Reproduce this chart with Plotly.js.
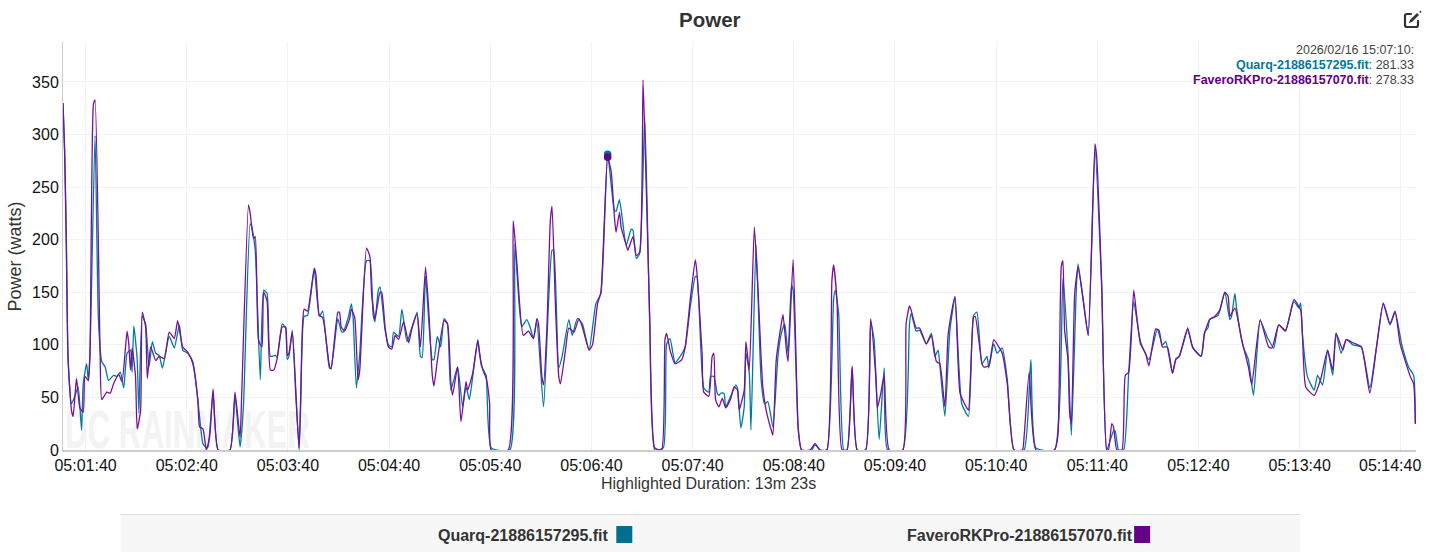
<!DOCTYPE html>
<html>
<head>
<meta charset="utf-8">
<script src="https://cdn.plot.ly/plotly-3.0.1.min.js"></script>
<style>
html,body{margin:0;padding:0;background:#fff;overflow:hidden}
#mark{position:absolute;left:65px;top:411px;font:700 53px "Liberation Sans",Arial,sans-serif;color:#f3f3f3;transform:scaleX(0.59);transform-origin:0 0;white-space:nowrap;line-height:38px;height:38px}
#chart{position:absolute;left:0;top:0;width:1438px;height:552px}
#icon{position:absolute;left:1403px;top:10px;width:19px;height:19px}
</style>
</head>
<body>
<div id="mark">DC RAINMAKER</div>
<div id="chart"></div>
<svg id="icon" viewBox="0 0 19 19"><path d="M8 4H4a2 2 0 0 0-2 2v9a2 2 0 0 0 2 2h9a2 2 0 0 0 2-2v-4" fill="none" stroke="#333" stroke-width="2.2" stroke-linecap="round"/><path d="M14 3l2 2-7 7-3 1 1-3z" fill="#333"/><circle cx="17.4" cy="1.8" r="1" fill="#333"/></svg>
<script>
const quarqName = 'Quarq-21886157295.fit';
const faveroName = 'FaveroRKPro-21886157070.fit';
const startClock = '2026-02-16T05:01:26.600Z';

const quarqSeconds = [
0,1,2,3,5,7,9,11,12,14,
15,16,19,21,23,25,27,30,32,34,
36,38,40,41,42,44,45,47,49,51,
53,55,57,59,63,66,69,71,74,77,
80,83,85,86,89,92,99,102,105,107,
111,112,114,117,119,121,123,126,127,130,
132,133,134,136,140,141,143,145,149,152,
154,158,159,163,165,166,169,171,172,174,
176,180,182,184,185,187,188,191,193,195,
196,199,201,204,207,210,212,213,215,219,
220,222,224,226,228,230,234,237,239,241,
243,246,248,250,251,254,265,268,272,275,
277,279,281,285,290,291,294,296,300,302,
305,308,312,316,319,323,327,328,330,334,
337,338,340,342,345,348,351,356,358,360,
363,366,369,372,375,376,380,383,384,386,
388,389,390,392,393,396,399,400,402,404,
405,407,408,411,414,416,418,421,424,426,
428,430,432,433,436,438,444,446,449,453,
457,458,460,463,465,468,471,476,479,481,
484,487,489,498,502,503,506,508,512,515,
517,519,520,523,526,529,533,537,540,542,
545,548,549,552,554,557,560,564,570,574,
577,588,593,596,598,601,602,605,608,612,
616,619,623,624,626,629,632,635,639,644,
649,652,654,658,660,662,667,670,675,677,
679,680,685,689,692,693,695,696,700,703,
706,710,714,718,721,725,730,733,734,735,
738,742,744,747,750,753,755,758,761,765,
770,775,779,783,787,790,794,798,801,802];
const quarqPower = [
330,285,200,86,44,51,60,19,63,82,
66,92,299,124,84,79,66,71,70,74,
59,92,95,74,118,86,35,127,120,79,
103,92,90,78,108,97,119,95,92,84,
47,6,2,3,54,0,0,51,3,41,
215,212,190,67,152,149,89,90,88,120,
116,86,89,114,0,44,127,128,171,127,
132,78,78,125,113,112,125,139,127,59,
92,180,180,128,122,152,155,114,100,98,
112,108,134,103,117,131,89,88,165,86,
86,108,98,125,120,57,79,41,60,48,
70,105,81,74,71,2,0,196,117,124,
117,106,122,41,190,190,78,89,124,109,
125,120,95,139,149,281,228,227,238,195,
210,209,182,187,317,117,0,2,101,106,
83,89,98,136,165,165,59,55,70,70,
54,52,54,54,41,51,62,59,21,41,
92,73,19,195,67,44,46,22,89,111,
120,92,157,152,19,0,0,5,0,0,
143,152,130,0,0,78,0,0,122,105,
10,78,0,0,120,130,113,114,101,111,
89,95,81,32,114,145,44,32,128,131,
82,89,78,101,92,97,67,0,0,86,
2,0,163,92,14,155,177,143,109,285,
155,0,18,18,0,0,73,141,103,86,
115,100,103,73,87,89,114,98,89,112,
116,124,128,150,124,127,149,135,98,86,
52,123,108,97,119,114,141,135,140,111,
70,57,71,62,95,71,111,92,105,100,
98,59,98,139,119,131,100,79,71,25];

const faveroSeconds = [
0,1,2,3,5,6,8,10,12,13,
15,16,18,19,22,23,26,28,30,33,
35,38,39,40,41,43,44,46,47,49,
50,52,55,57,60,63,66,68,71,74,
77,80,81,83,85,87,89,92,99,102,
105,106,110,111,113,114,116,118,119,121,
123,125,127,130,132,133,134,136,138,140,
142,143,145,149,150,152,154,158,159,163,
164,165,167,170,171,173,175,176,180,182,
183,185,188,189,191,193,195,197,199,202,
205,207,210,212,215,217,219,220,222,226,
228,230,231,234,236,239,240,243,246,247,
249,251,253,254,264,267,269,273,276,279,
281,282,284,285,287,289,290,292,294,295,
298,300,303,306,308,312,314,317,319,323,
325,327,328,330,331,334,335,338,340,342,
344,346,348,351,355,357,358,360,363,367,
369,372,375,376,379,380,383,385,386,387,
389,391,393,396,398,400,401,404,405,407,
410,412,415,417,420,421,423,426,427,429,
430,433,436,438,443,446,449,453,456,457,
459,462,465,468,471,476,479,482,483,485,
487,490,498,500,502,503,506,508,512,515,
518,520,523,525,529,532,536,537,540,541,
545,546,549,552,555,557,560,564,569,570,
573,577,588,590,592,593,594,596,597,598,
600,602,605,608,612,613,616,619,620,622,
623,625,628,630,632,635,637,639,642,644,
648,650,652,655,658,660,662,667,670,675,
677,680,683,686,689,691,692,695,699,703,
705,710,715,717,721,725,730,734,737,742,
746,750,753,755,759,761,765,770,775,779,
783,787,790,793,799,801,802];
const faveroPower = [
330,280,190,88,38,32,68,40,36,70,
66,92,328,333,92,48,55,54,63,72,
65,113,101,76,97,70,20,37,131,117,
68,98,85,89,87,112,106,123,98,93,
82,47,22,20,0,13,58,0,0,55,
12,54,233,225,201,203,104,98,150,142,
76,76,87,117,117,90,92,112,54,2,
117,134,132,173,167,128,126,80,77,131,
131,117,113,125,134,126,67,76,192,184,
149,125,150,150,117,98,96,109,105,122,
102,116,129,98,174,130,71,61,85,123,
120,65,52,79,27,65,57,73,104,92,
76,68,44,0,0,218,181,109,113,106,
125,120,70,62,117,218,232,139,70,63,
95,116,112,125,117,95,100,139,150,278,
266,222,207,226,212,195,190,203,185,188,
352,244,124,2,0,105,111,95,82,86,
98,143,181,168,92,55,51,89,92,48,
41,49,40,49,60,57,38,57,103,76,
212,158,60,38,19,14,86,120,129,95,
84,181,22,0,0,6,0,0,161,176,
143,0,0,80,0,0,125,70,40,54,
71,0,0,120,137,133,116,116,101,109,
84,82,41,111,146,54,40,38,126,127,
82,79,80,105,98,92,63,0,0,13,
74,0,0,13,174,180,114,86,35,25,
149,174,143,109,291,279,158,0,0,25,
22,0,0,71,74,152,124,101,92,80,
115,114,98,98,73,86,89,116,97,89,
111,124,127,133,150,146,127,135,105,79,
62,124,98,97,119,113,143,133,60,52,
68,95,76,111,95,105,102,98,54,98,
140,120,132,101,70,63,25];

const highlightSecond = [323];
const highlightQuarq = [281.33];
const highlightFavero = [278.33];

const yTicks = [0,50,100,150,200,250,300,350];
const xTickClock = ['05:01:40','05:02:40','05:03:40','05:04:40','05:05:40','05:06:40','05:07:40','05:08:40','05:09:40','05:10:40','05:11:40','05:12:40','05:13:40','05:14:40'];
const tooltipTime = '2026/02/16 15:07:10:';
const durationText = 'Highlighted Duration: 13m 23s';

const teal = '#007a99', purple = '#74109c';
const tealSwatch = '#006f8f', purpleSwatch = '#650088';
const FONT = '"Liberation Sans", Arial, sans-serif';
const W = 1438, H = 552;
const L = 62.5, R = 1416, T = 42, B = 450;

const base = Date.parse(startClock);
const toDate = s => new Date(base + s*1000).toISOString().replace('T',' ').replace('Z','');
const xp = x => (x - L) / (R - L);
const yp = y => (B - y) / (B - T);

const xTickVals = xTickClock.map(t => '2026-02-16 ' + t);
const lastTick = xTickClock.length - 1;
const xTickText = xTickClock.map((t,i) => i === lastTick ? '' : t);

const lineStyle = c => ({color:c,width:1.3,shape:'spline',smoothing:0.5});
const traces = [
  {type:'scatter',mode:'lines',name:quarqName,x:quarqSeconds.map(toDate),y:quarqPower,line:lineStyle(teal),hoverinfo:'skip'},
  {type:'scatter',mode:'lines',name:faveroName,x:faveroSeconds.map(toDate),y:faveroPower,line:lineStyle(purple),hoverinfo:'skip'},
  {type:'scatter',mode:'markers',name:quarqName,x:highlightSecond.map(toDate),y:highlightQuarq,marker:{color:tealSwatch,size:7.5},hoverinfo:'skip'},
  {type:'scatter',mode:'markers',name:faveroName,x:highlightSecond.map(toDate),y:highlightFavero,marker:{color:purpleSwatch,size:7.5},hoverinfo:'skip'}
];

const free = {xref:'paper',yref:'paper',showarrow:false};
const tip = Object.assign({},free,{xanchor:'right',yanchor:'middle',font:{family:FONT,size:12.5,color:'#444'},x:xp(1416)});
const annotations = [
  Object.assign({},free,{text:'<b>Power</b>',x:xp(710),y:yp(20),xanchor:'center',yanchor:'middle',font:{family:FONT,size:20.5,color:'#333'}}),
  Object.assign({},tip,{text:tooltipTime,y:yp(50)}),
  Object.assign({},tip,{text:`<b><span style="color:${teal}">${quarqName}</span></b>: ${highlightQuarq[0]}`,y:yp(65)}),
  Object.assign({},tip,{text:`<b><span style="color:${purpleSwatch}">${faveroName}</span></b>: ${highlightFavero[0]}`,y:yp(80)}),
  Object.assign({},free,{text:'Power (watts)',x:xp(14),y:yp(257),textangle:-90,xanchor:'center',yanchor:'middle',font:{family:FONT,size:18,color:'#333'}}),
  Object.assign({},free,{text:xTickClock[lastTick],x:xp(1390),y:yp(465),xanchor:'center',yanchor:'middle',font:{family:FONT,size:16,color:'#111'}}),
  Object.assign({},free,{text:durationText,x:xp(708),y:yp(484),xanchor:'center',yanchor:'middle',font:{family:FONT,size:16,color:'#333'}}),
  Object.assign({},free,{text:`<b>${quarqName}</b>`,x:xp(610.5),y:yp(535),xanchor:'right',yanchor:'middle',font:{family:FONT,size:16,color:'#333'}}),
  Object.assign({},free,{text:`<b>${faveroName}</b>`,x:xp(1135),y:yp(535),xanchor:'right',yanchor:'middle',font:{family:FONT,size:16,color:'#333'}})
];
const rect = (x0,y0,x1,y1,fill) => ({type:'rect',xref:'paper',yref:'paper',x0:xp(x0),x1:xp(x1),y0:yp(y0),y1:yp(y1),fillcolor:fill,line:{width:0},layer:'below'});
const shapes = [
  rect(120,514,1300,552,'#f7f7f7'),
  rect(120,514,1300,515,'#dddddd'),
  rect(616,526,632,543,tealSwatch),
  rect(1134,526,1150,543,purpleSwatch)
];

const layout = {
  width:W,height:H,autosize:false,showlegend:false,
  paper_bgcolor:'rgba(0,0,0,0)',plot_bgcolor:'rgba(0,0,0,0)',
  margin:{l:L,r:W-R,t:T,b:H-B,pad:0},
  font:{family:FONT},
  xaxis:{type:'date',range:[toDate(0),toDate(802.4)],tickmode:'array',tickvals:xTickVals,ticktext:xTickText,
    showgrid:true,gridcolor:'#f3f3f3',gridwidth:1,zeroline:false,showline:true,linecolor:'#cccccc',linewidth:1.5,
    ticks:'',tickangle:0,ticklabeloverflow:'allow',tickfont:{family:FONT,size:16,color:'#111'},automargin:false},
  yaxis:{range:[0,388],tickmode:'array',tickvals:yTicks,ticktext:yTicks.map(String),
    showgrid:true,gridcolor:'#f3f3f3',gridwidth:1,zeroline:false,showline:true,linecolor:'#cccccc',linewidth:1,
    ticks:'',ticklabeloverflow:'allow',tickfont:{family:FONT,size:16,color:'#111'},automargin:false},
  annotations,shapes
};
Plotly.newPlot('chart',traces,layout,{displayModeBar:false,responsive:false,staticPlot:true});
</script>
</body>
</html>
